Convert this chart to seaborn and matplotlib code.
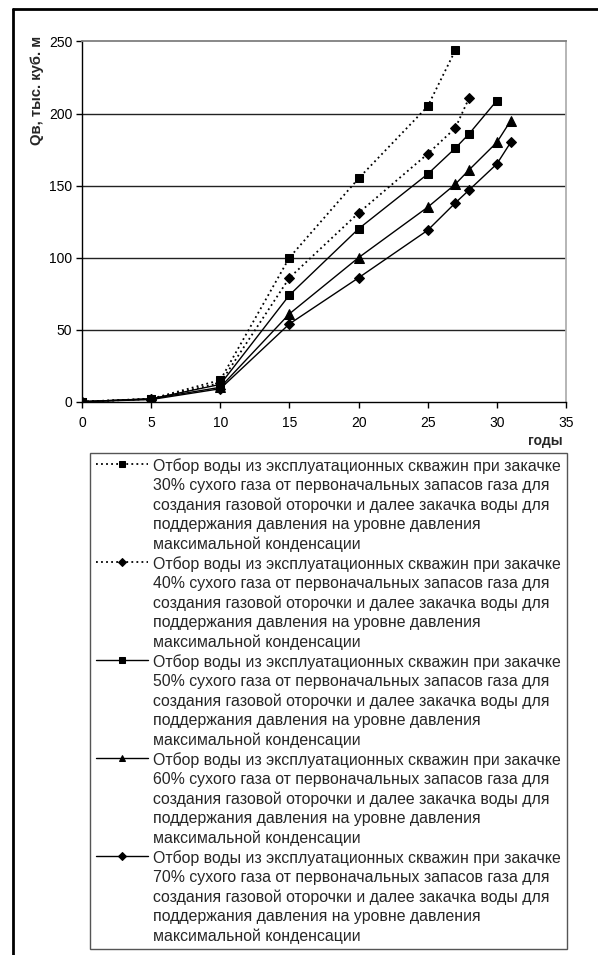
import matplotlib
matplotlib.use("Agg")
import matplotlib.pyplot as plt
from matplotlib.lines import Line2D
import seaborn as sns
import pandas as pd

# ---------------- data ----------------
x30 = [0, 5, 10, 15, 20, 25, 27]
y30 = [0, 2, 15, 100, 155, 205, 244]
x40 = [0, 5, 10, 15, 20, 25, 27, 28]
y40 = [0, 2, 13, 86, 131, 172, 190, 211]
x50 = [0, 5, 10, 15, 20, 25, 27, 28, 30]
y50 = [0, 2, 12, 74, 120, 158, 176, 186, 209]
x60 = [0, 5, 10, 15, 20, 25, 27, 28, 30, 31]
y60 = [0, 2, 10, 61, 100, 135, 151, 161, 180, 195]
x70 = [0, 5, 10, 15, 20, 25, 27, 28, 30, 31]
y70 = [0, 1.5, 9, 54, 86, 119, 138, 147, 165, 180]

percents = ["30%", "40%", "50%", "60%", "70%"]
xticks = [0, 5, 10, 15, 20, 25, 30, 35]
yticks = [0, 50, 100, 150, 200, 250]
ylabel = "Qв, тыс. куб. м"
xlabel = "годы"


def make_label(p):
    return ("Отбор воды из эксплуатационных скважин при закачке\n"
            f"{p} сухого газа от первоначальных запасов газа для\n"
            "создания газовой оторочки и далее закачка воды для\n"
            "поддержания давления на уровне давления\n"
            "максимальной конденсации")


series = [(x30, y30), (x40, y40), (x50, y50), (x60, y60), (x70, y70)]
styles = [
    dict(marker="s", ls=(0, (1.0, 1.8)), ms=6.0, lw=1.3),
    dict(marker="D", ls=(0, (1.0, 1.8)), ms=5.0, lw=1.3),
    dict(marker="s", ls="-", ms=6.0, lw=1.0),
    dict(marker="^", ls="-", ms=6.5, lw=1.0),
    dict(marker="D", ls="-", ms=5.0, lw=1.0),
]

sns.set_theme(style="white")
plt.rcParams["font.family"] = ["Liberation Sans", "DejaVu Sans"]

W, H = 598, 955
fig = plt.figure(figsize=(W / 100, H / 100), dpi=100)
ax = fig.add_axes([82 / W, 1 - 401.7 / H, 484 / W, (401.7 - 41.5) / H])

for (xs, ys), st, p in zip(series, styles, percents):
    df = pd.DataFrame({"x": xs, "y": ys})
    sns.lineplot(data=df, x="x", y="y", ax=ax, color="black",
                 marker=st["marker"], markersize=st["ms"], linestyle=st["ls"],
                 linewidth=st["lw"], markeredgecolor="black", markerfacecolor="black",
                 label=make_label(p), legend=False)

ax.set_xlim(0, 35)
ax.set_ylim(0, 250)
ax.set_xticks(xticks)
ax.set_yticks(yticks)
ax.tick_params(axis="both", labelsize=10, length=4, width=1, color="black",
               direction="out", pad=3, labelcolor="black")
ax.tick_params(axis="x", pad=6)
ax.tick_params(bottom=True, left=True)
for t in ax.get_xticklabels() + ax.get_yticklabels():
    t.set_family(["Liberation Sans", "DejaVu Sans"])

for y in [50, 100, 150, 200]:
    ax.axhline(y, color="#222222", lw=1.0, zorder=0)

ax.spines["left"].set_color("black")
ax.spines["bottom"].set_color("black")
ax.spines["left"].set_linewidth(1.0)
ax.spines["bottom"].set_linewidth(1.0)
ax.spines["top"].set_color("#7f7f7f")
ax.spines["top"].set_linewidth(1.3)
ax.spines["right"].set_color("#b0b0b0")
ax.spines["right"].set_linewidth(1.3)
ax.set_xlabel("")
ax.set_ylabel("")

fig.text(37 / W, 1 - 90 / H, ylabel, rotation=90, ha="center", va="center",
         fontsize=10.7, fontweight="bold")
fig.text(563 / W, 1 - 441 / H, xlabel, ha="right", va="center",
         fontsize=10, fontweight="bold")

handles = ax.get_lines()[:5]
labels = [make_label(p) for p in percents]
leg = fig.legend(handles, labels, loc="upper left",
                 bbox_to_anchor=(90 / W, 1 - 453 / H),
                 bbox_transform=fig.transFigure,
                 fontsize=11.4, frameon=True, fancybox=False, shadow=False,
                 numpoints=1, markerscale=0.75, handlelength=3.3, handletextpad=0.35,
                 borderpad=0.35, borderaxespad=0, labelspacing=0.28,
                 framealpha=1)
leg.get_frame().set_edgecolor("#555555")
leg.get_frame().set_linewidth(1.0)
for t in leg.get_texts():
    t.set_linespacing(1.34)
# align handles with first line of each entry
try:
    for col in leg._legend_handle_box.get_children():
        for item in col.get_children():
            item.align = "top"
except Exception:
    pass

# outer frame (top and left)
fig.add_artist(Line2D([13 / W, 1], [1 - 9 / H, 1 - 9 / H], transform=fig.transFigure,
                      color="black", lw=2.0))
fig.add_artist(Line2D([13 / W, 13 / W], [1 - 9 / H, 0], transform=fig.transFigure,
                      color="black", lw=2.0))

fig.savefig("out.png", dpi=100)
